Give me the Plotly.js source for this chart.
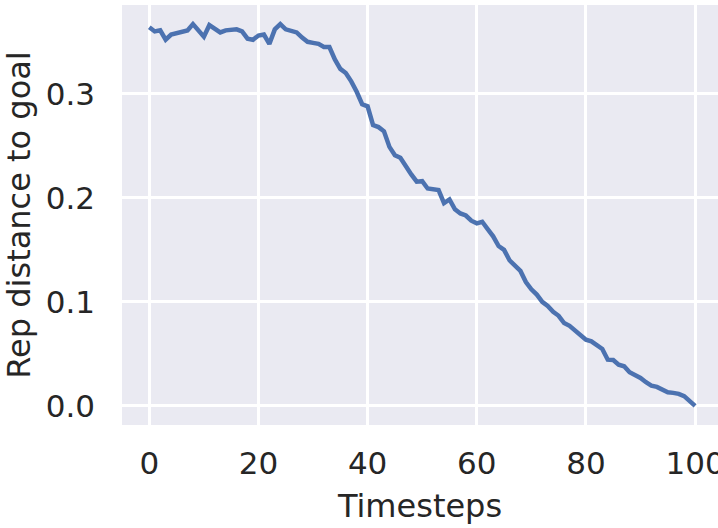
<!DOCTYPE html>
<html>
<head>
<meta charset="utf-8">
<script src="https://cdn.plot.ly/plotly-3.0.1.min.js"></script>
<style>html,body{margin:0;padding:0;background:#fff;overflow:hidden}#chart{width:718px;height:528px}</style>
</head>
<body>
<div id="chart"></div>
<script>
const timesteps = Array.from({length: 101}, (_, i) => i);
const repDistance = [
  0.364, 0.360, 0.361, 0.352, 0.357, 0.358, 0.360, 0.361, 0.367, 0.361,
  0.355, 0.366, 0.362, 0.359, 0.361, 0.361, 0.362, 0.360, 0.353, 0.352,
  0.356, 0.357, 0.348, 0.362, 0.367, 0.362, 0.3605, 0.359, 0.354, 0.350,
  0.349, 0.348, 0.345, 0.345, 0.333, 0.324, 0.320, 0.312, 0.302, 0.290,
  0.288, 0.270, 0.268, 0.264, 0.249, 0.241, 0.2385, 0.230, 0.2225, 0.2155,
  0.216, 0.209, 0.2087, 0.2075, 0.195, 0.1985, 0.189, 0.185, 0.183, 0.178,
  0.1755, 0.177, 0.170, 0.163, 0.1537, 0.150, 0.140, 0.135, 0.1297, 0.119,
  0.112, 0.107, 0.100, 0.096, 0.0904, 0.0866, 0.0796, 0.077, 0.0722, 0.0674,
  0.0636, 0.062, 0.0585, 0.0547, 0.0444, 0.0441, 0.0396, 0.038, 0.0323, 0.0297,
  0.0268, 0.0227, 0.0195, 0.0182, 0.0157, 0.0131, 0.0125, 0.0115, 0.0093, 0.005,
  0.000
];
const xTicks = [0, 20, 40, 60, 80, 100];
const yTicks = [0.0, 0.1, 0.2, 0.3];
const yTickText = ['0.0', '0.1', '0.2', '0.3'];

const fontFamily = 'DejaVu Sans, sans-serif';
const textColor = '#262626';

Plotly.newPlot('chart', [{
  x: timesteps,
  y: repDistance,
  type: 'scatter',
  mode: 'lines',
  line: {color: '#4C72B0', width: 4.5},
  hoverinfo: 'skip'
}], {
  width: 718,
  height: 528,
  margin: {l: 122, r: 0, t: 5, b: 103},
  paper_bgcolor: '#ffffff',
  plot_bgcolor: '#EAEAF2',
  showlegend: false,
  font: {family: fontFamily, color: textColor, size: 31},
  xaxis: {
    range: [-5, 104.2],
    tickvals: xTicks,
    ticktext: xTicks.map(String),
    showgrid: true,
    gridcolor: '#ffffff',
    gridwidth: 3,
    zeroline: false,
    showline: false,
    ticks: '',
    ticklabelstandoff: 17,
    ticklabeloverflow: 'allow',
    tickfont: {size: 31, family: fontFamily, color: textColor},
    title: {text: 'Timesteps', font: {size: 32, family: fontFamily, color: textColor}, standoff: 14},
    automargin: false
  },
  yaxis: {
    range: [-0.0184, 0.3854],
    tickvals: yTicks,
    ticktext: yTickText,
    showgrid: true,
    gridcolor: '#ffffff',
    gridwidth: 3,
    zeroline: false,
    showline: false,
    ticks: '',
    ticklabelstandoff: 26,
    tickfont: {size: 31, family: fontFamily, color: textColor},
    title: {text: 'Rep distance to goal', font: {size: 32, family: fontFamily, color: textColor}, standoff: 14},
    automargin: false
  }
}, {displayModeBar: false, staticPlot: true});
</script>
</body>
</html>
